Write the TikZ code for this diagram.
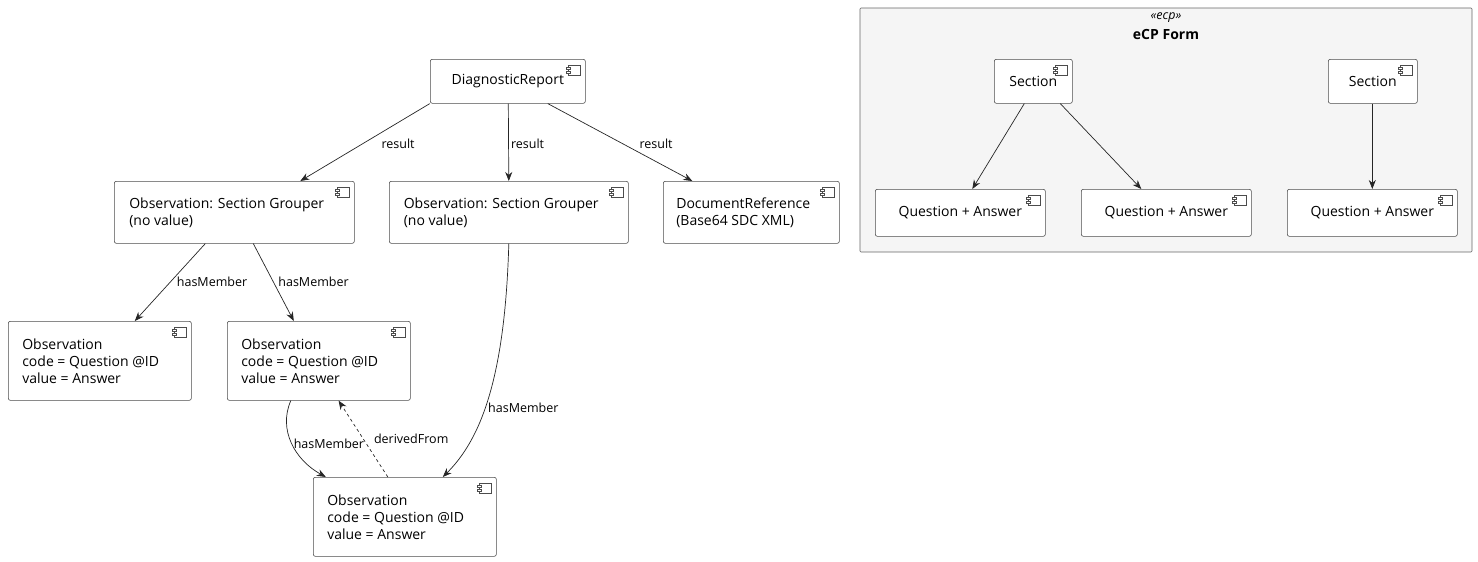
\documentclass[tikz,border=0pt]{standalone}
\usepackage{fontspec}
\setmainfont{Open Sans}
\usetikzlibrary{arrows.meta}
\begin{document}
\begin{tikzpicture}[x=1pt,y=-1pt,
  comp/.style={draw=black!70,fill=white,rounded corners=2pt,line width=0.6pt,font=\fontsize{14}{17}\selectfont,inner sep=0pt},
  ml/.style={align=left,text width=#1},
  lbl/.style={font=\fontsize{12.5}{15}\selectfont,fill=none,inner sep=1pt},
  arr/.style={-{Stealth[length=9pt,width=7pt]},line width=0.7pt,draw=black!85}]
\useasboundingbox (0,0) rectangle (1478,562);
\newcommand{\cicon}[1]{%
  \draw[line width=0.5pt,draw=black!70] ([xshift=-17pt,yshift=-6pt]#1.north east) rectangle ([xshift=-5pt,yshift=-16pt]#1.north east);
  \draw[line width=0.5pt,draw=black!70,fill=white] ([xshift=-19pt,yshift=-8pt]#1.north east) rectangle ([xshift=-15pt,yshift=-10pt]#1.north east);
  \draw[line width=0.5pt,draw=black!70,fill=white] ([xshift=-19pt,yshift=-12pt]#1.north east) rectangle ([xshift=-15pt,yshift=-14pt]#1.north east);}
\newcommand{\cbox}[6]{% name, x1,y1,x2,y2, text
  \node[comp,minimum width=#4-#2,minimum height=#5-#3,anchor=north west] (#1) at (#2,#3) {#6};
  \cicon{#1}}
% package
\draw[fill=black!4,draw=black!60,line width=0.6pt,rounded corners=1pt] (860,8) rectangle (1472,252);
\node[font=\fontsize{12.5}{15}\selectfont\itshape] (st) at (1166,18) {«ecp»};
\node[font=\fontsize{14}{17}\selectfont\bfseries] (pk) at (1166,34) {eCP Form};

\cbox{dr}{430}{59}{585}{103}{DiagnosticReport}
\cbox{g1}{114}{181}{354}{243}{\parbox{210pt}{Observation: Section Grouper\\(no value)}}
\cbox{g2}{389}{181}{628}{243}{\parbox{210pt}{Observation: Section Grouper\\(no value)}}
\cbox{doc}{663}{181}{839}{243}{\parbox{150pt}{DocumentReference\\(Base64 SDC XML)}}
\cbox{o1}{8}{321}{191}{400}{\parbox{155pt}{Observation\\code = Question @ID\\value = Answer}}
\cbox{o2}{227}{321}{410}{400}{\parbox{155pt}{Observation\\code = Question @ID\\value = Answer}}
\cbox{o3}{313}{477}{496}{556}{\parbox{155pt}{Observation\\code = Question @ID\\value = Answer}}
\cbox{s1}{994}{59}{1072}{103}{Section}
\cbox{s2}{1328}{59}{1417}{103}{Section}
\cbox{q1}{875}{189}{1045}{236}{Question + Answer}
\cbox{q2}{1081}{189}{1251}{236}{Question + Answer}
\cbox{q3}{1287}{189}{1457}{236}{Question + Answer}

\draw[arr] ([xshift=-78pt]dr.south) -- ([xshift=66pt]g1.north) node[lbl,pos=0.5,xshift=33pt,yshift=-2pt]{result};
\draw[arr] ([xshift=0.5pt]dr.south) -- (g2.north) node[lbl,pos=0.5,xshift=19pt,yshift=-2pt]{result};
\draw[arr] ([xshift=40pt]dr.south) -- ([xshift=-59pt]doc.north) node[lbl,pos=0.5,xshift=36pt,yshift=-2pt]{result};
\draw[arr] ([xshift=-29pt]g1.south) -- ([xshift=35pt]o1.north) node[lbl,pos=0.5,xshift=42pt]{hasMember};
\draw[arr] ([xshift=19pt]g1.south) -- ([xshift=-25pt]o2.north) node[lbl,pos=0.5,xshift=40pt]{hasMember};
\draw[arr] ([xshift=0pt]g2.south) .. controls (505,380) and (480,440) .. ([xshift=38pt]o3.north) node[lbl,pos=0.5,xshift=35pt,yshift=-10pt]{hasMember};
\draw[arr] ([xshift=-28pt]o2.south) .. controls (278,430) and (295,460) .. ([xshift=-79pt]o3.north) node[lbl,pos=0.5,xshift=37pt,yshift=0pt]{hasMember};
\draw[arr,dashed] ([xshift=-17pt]o3.north) -- ([xshift=-72pt]o2.south east) node[lbl,pos=0.5,xshift=48pt]{derivedFrom};
\draw[arr] ([xshift=-9pt]s1.south) -- ([xshift=12pt]q1.north);
\draw[arr] ([xshift=27pt]s1.south) -- ([xshift=-25pt]q2.north);
\draw[arr] ([xshift=-0.5pt]s2.south) -- (q3.north);
\end{tikzpicture}
\end{document}
